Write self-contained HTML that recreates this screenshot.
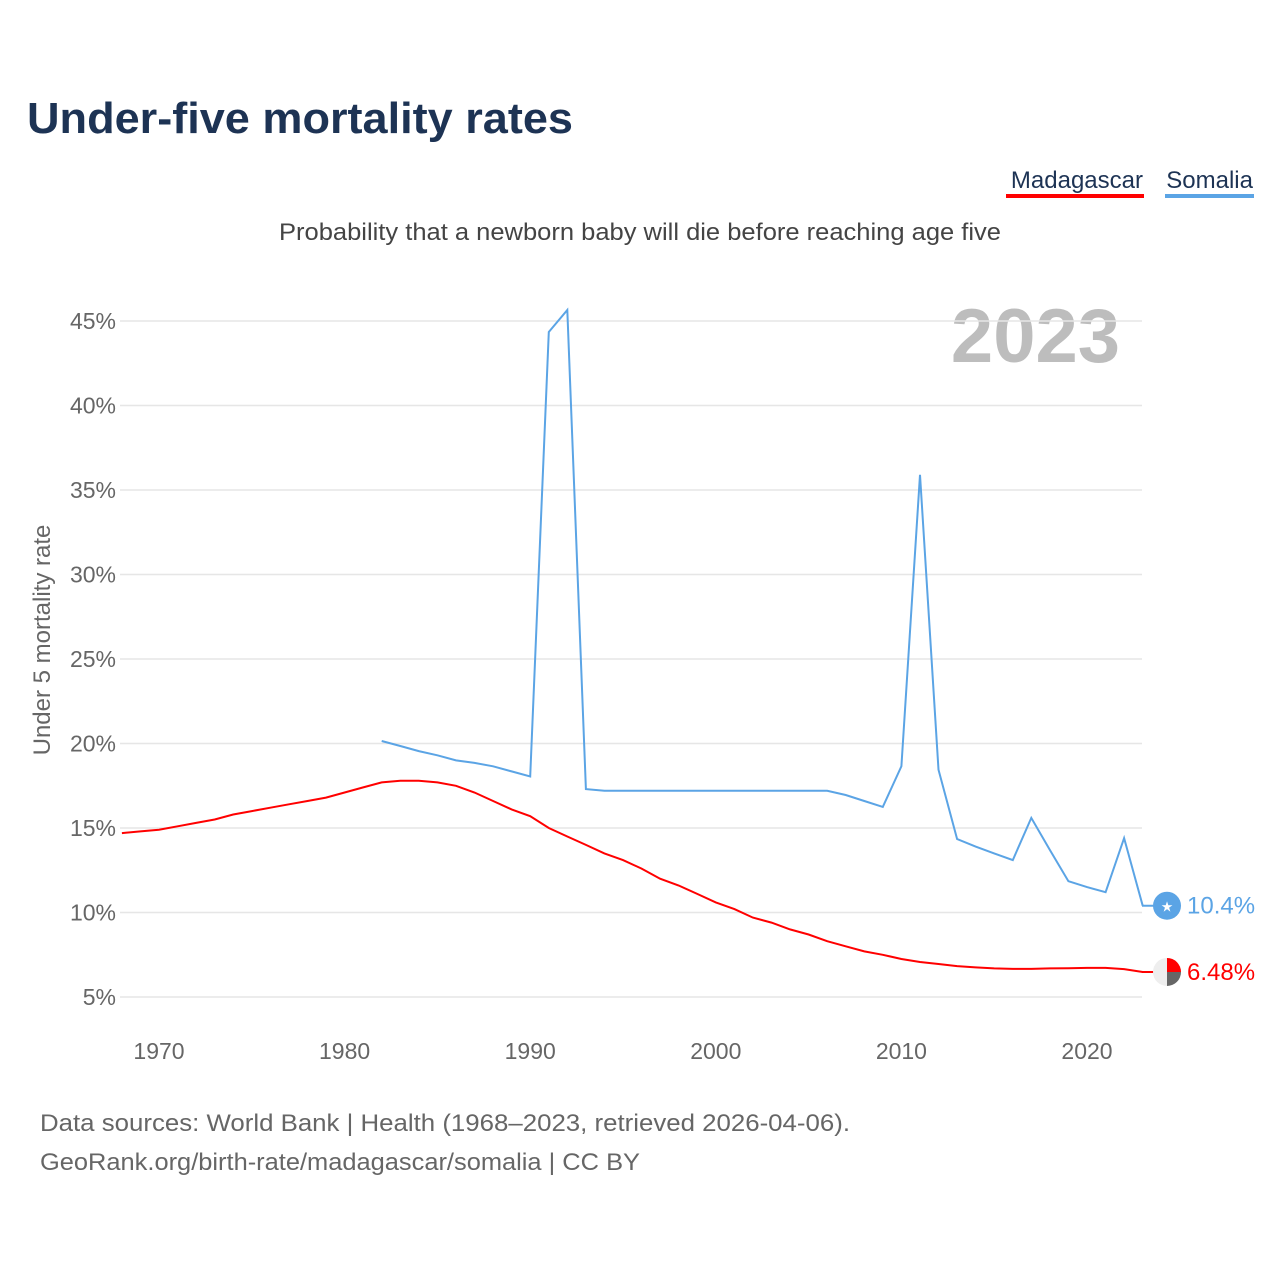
<!DOCTYPE html>
<html><head><meta charset="utf-8"><style>
body{margin:0;background:#fff;width:1280px;height:1280px;overflow:hidden;font-family:"Liberation Sans",sans-serif}
svg text{font-family:"Liberation Sans",sans-serif}
</style></head><body>
<svg id="chart" width="1280" height="1280">
<text x="27" y="133" font-size="44" font-weight="bold" fill="#1d3354" textLength="546" lengthAdjust="spacingAndGlyphs">Under-five mortality rates</text>
<g><text x="1143" y="188" font-size="24" fill="#1d3354" text-anchor="end">Madagascar</text><rect x="1006" y="194" width="138" height="4" fill="#ff0000"/></g>
<g><text x="1253" y="188" font-size="24" fill="#1d3354" text-anchor="end">Somalia</text><rect x="1165" y="194" width="89" height="4" fill="#5ba4e5"/></g>
<text x="279" y="240" font-size="24" fill="#444" textLength="722" lengthAdjust="spacingAndGlyphs">Probability that a newborn baby will die before reaching age five</text>
<text x="1120" y="362" font-size="76" font-weight="bold" fill="#bdbdbd" text-anchor="end">2023</text>
<text transform="translate(50,640) rotate(-90)" font-size="24" fill="#666" text-anchor="middle">Under 5 mortality rate</text>
<g id="grid"></g><g id="series"></g><g id="marks"></g>
<text x="40" y="1131" font-size="24" fill="#666" textLength="810" lengthAdjust="spacingAndGlyphs">Data sources: World Bank | Health (1968–2023, retrieved 2026-04-06).</text>
<text x="40" y="1170" font-size="24" fill="#666" textLength="600" lengthAdjust="spacingAndGlyphs">GeoRank.org/birth-rate/madagascar/somalia | CC BY</text>
</svg>
<script>
const yTicks=[5,10,15,20,25,30,35,40,45];
const xTicks=[1970,1980,1990,2000,2010,2020];
const madYears=[];for(let y=1968;y<=2023;y++)madYears.push(y);
const madagascar=[14.7,14.8,14.9,15.1,15.3,15.5,15.8,16.0,16.2,16.4,16.6,16.8,17.1,17.4,17.7,17.8,17.8,17.7,17.5,17.1,16.6,16.1,15.7,15.0,14.5,14.0,13.5,13.1,12.6,12.0,11.6,11.1,10.6,10.2,9.7,9.4,9.0,8.7,8.3,8.0,7.7,7.5,7.25,7.07,6.95,6.83,6.75,6.69,6.66,6.66,6.69,6.7,6.72,6.72,6.65,6.48];
const somYears=[];for(let y=1982;y<=2023;y++)somYears.push(y);
const somalia=[20.15,19.85,19.55,19.3,19.0,18.85,18.65,18.35,18.05,44.35,45.65,17.3,17.2,17.2,17.2,17.2,17.2,17.2,17.2,17.2,17.2,17.2,17.2,17.2,17.2,16.95,16.6,16.25,18.65,35.9,18.45,14.35,13.9,13.5,13.1,15.6,13.7,11.85,11.5,11.2,14.4,10.4];
const X=y=>159+(y-1970)*18.56;
const Y=v=>1081.5-v*16.9;
const ns="http://www.w3.org/2000/svg";
function mk(t,a,p){const e=document.createElementNS(ns,t);for(const k in a)e.setAttribute(k,a[k]);p.appendChild(e);return e;}
const grid=document.getElementById('grid');
yTicks.forEach(v=>{
 const l=mk('line',{x1:120,x2:1142,y1:Y(v),y2:Y(v),stroke:'#e6e6e6','stroke-width':1.5},grid);
 
 
 const t=mk('text',{x:116,y:Y(v)+8,'font-size':23,fill:'#666','text-anchor':'end'},grid);t.textContent=v+'%';
 
 
});
xTicks.forEach(v=>{
 const t=mk('text',{x:X(v),y:1059,'font-size':23,fill:'#666','text-anchor':'middle'},grid);t.textContent=v;
 
 
});
const s=document.getElementById('series');
function line(yrs,vals,c,name){
 const p=mk('path',{d:vals.map((v,i)=>(i?'L':'M')+X(yrs[i]).toFixed(1)+','+Y(v).toFixed(1)).join(''),fill:'none',stroke:c,'stroke-width':2},s);
 
 
}
line(madYears,madagascar,'#ff0000','madagascar-line');
line(somYears,somalia,'#5ba4e5','somalia-line');
const m=document.getElementById('marks');
function end(vals,c,name,flag){
 const v=vals[vals.length-1],y=Y(v);
 mk('line',{x1:1142,x2:1155,y1:y,y2:y,stroke:c,'stroke-width':2},m);
 const g=mk('g',{},m);
 
 
 if(flag){mk('circle',{cx:1167,cy:y,r:14,fill:'#5ba4e5'},g);const st=mk('text',{x:1167,y:y+6,'font-size':14,fill:'#fff','text-anchor':'middle'},g);st.textContent='★';}
 else{mk('circle',{cx:1167,cy:y,r:14,fill:'#eee'},g);mk('path',{d:`M1167,${y}L1167,${y-14}A14,14 0 0 1 1181,${y}Z`,fill:'#ff0000'},g);mk('path',{d:`M1167,${y}L1181,${y}A14,14 0 0 1 1167,${y+14}Z`,fill:'#666'},g);}
 const t=mk('text',{x:1187,y:y+8,'font-size':24,fill:c},m);t.textContent=(v>=10?v.toFixed(1):v.toFixed(2))+'%';
 
 
}
end(somalia,'#5ba4e5','somalia',true);
end(madagascar,'#ff0000','madagascar',false);
</script>
</body></html>
